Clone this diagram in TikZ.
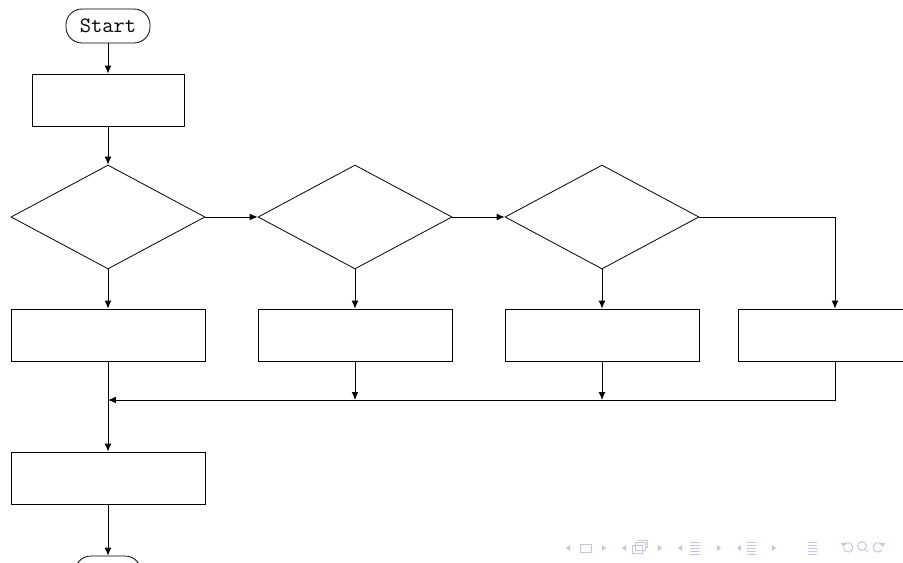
\documentclass[tikz,border=0pt]{standalone}
\usetikzlibrary{shapes.geometric,arrows.meta}
\definecolor{navc}{RGB}{196,196,232}
\begin{document}
\begin{tikzpicture}[x=0.50417pt,y=-0.50417pt,
  box/.style={draw, rectangle, inner sep=0pt, minimum width=97.8pt, minimum height=26.2pt},
  decision/.style={draw, diamond, inner sep=0pt, minimum width=97.8pt, minimum height=52.4pt},
  term/.style={draw, rectangle, rounded corners=8pt, inner sep=0pt, minimum height=17.1pt,
    font=\fontsize{11}{13}\selectfont\ttfamily},
  flow/.style={-{Latex[length=4pt,width=3.4pt]}},
  nav/.style={navc, line width=0.5pt},
  navfill/.style={fill=navc, draw=none}]
\useasboundingbox (0,0) rectangle (903,563);
\clip (0,0) rectangle (903,563);
% nodes
\node[term, minimum width=42.35pt] (start) at (108,26) {Start};
\node[box, minimum width=76.6pt] (b1) at (108,100) {};
\node[decision] (d1) at (108,217) {};
\node[decision] (d2) at (355,217) {};
\node[decision] (d3) at (602,217) {};
\node[box] (pa) at (108,335) {};
\node[box] (pb) at (355,335) {};
\node[box] (pc) at (602,335) {};
\node[box] (pd) at (835,335) {};
\node[box] (e) at (108,478) {};
\node[term, minimum width=33.3pt] (end) at (108,573) {};
\coordinate (m) at (108,400);
% connectors
\draw[flow] (start) -- (b1);
\draw[flow] (b1) -- (d1);
\draw[flow] (d1.east) -- (d2.west);
\draw[flow] (d2.east) -- (d3.west);
\draw[flow] (d3.east) -| (pd.north);
\draw[flow] (d1.south) -- (pa.north);
\draw[flow] (d2.south) -- (pb.north);
\draw[flow] (d3.south) -- (pc.north);
\draw[flow] (pa.south) -- (e.north);
\draw[flow] (e.south) -- (end.north);
\draw[flow] (pd.south) |- (m);
\draw[flow] (pb.south) -- (pb.south |- m);
\draw[flow] (pc.south) -- (pc.south |- m);
% navigation symbols
\foreach \x in {566,622,678,737} \fill[navfill] (\x,548) -- (\x+4,545) -- (\x+4,551) -- cycle;
\foreach \x in {606,662,721,776} \fill[navfill] (\x,548) -- (\x-4,545) -- (\x-4,551) -- cycle;
\draw[nav] (580,544) rectangle (591,552);
\draw[nav] (632,545) rectangle (642,553);
\draw[nav] (635,542) -- (635,545) (635,542) rectangle (645,550);
\draw[nav] (638,540) -- (647,540) -- (647,547) -- (645,547);
\foreach \y in {542,545,548,551,554} \draw[nav] (690,\y) -- (700,\y);
\foreach \y in {542,545,548,551,554} \draw[nav] (747,\y) -- (756,\y);
\foreach \y in {542,545,548,551,554} \draw[nav] (808,\y) -- (817,\y);
\draw[nav] (844,545) arc (150:-170:2.4pt);
\fill[navfill] (841,543) -- (846,543) -- (843,547) -- cycle;
\draw[nav] (862,546) circle (2.2pt);
\draw[nav] (865,549) -- (868,552);
\draw[nav] (882,545) arc (30:330:2.4pt);
\fill[navfill] (885,543) -- (880,543) -- (883,547) -- cycle;
\end{tikzpicture}
\end{document}
